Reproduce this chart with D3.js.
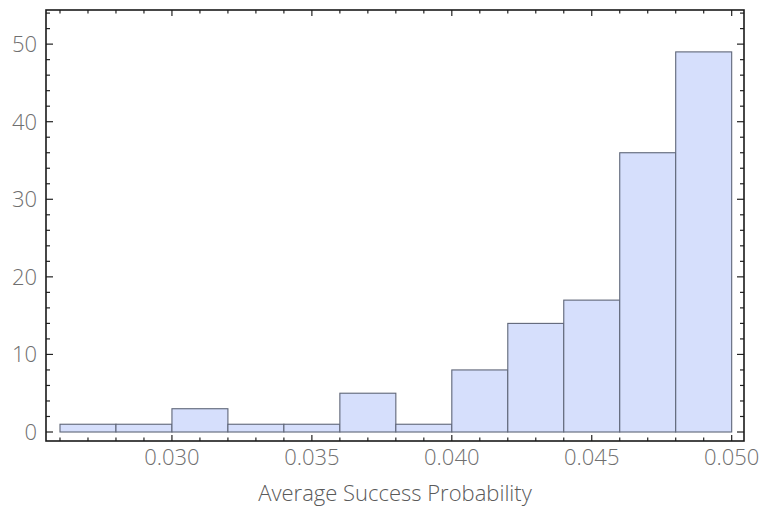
<!DOCTYPE html>
<html>
<head>
<meta charset="utf-8">
<script src="https://cdn.jsdelivr.net/npm/d3@7"></script>
<style>
  html, body { margin: 0; padding: 0; background: #fff; }
  svg { display: block; }
  text { font-family: "Open Sans", "DejaVu Sans", sans-serif; font-weight: 300; }
</style>
</head>
<body>
<svg id="chart" width="761" height="510"></svg>
<script>
// Histogram bins (left edge) and counts
const binStarts = [0.026, 0.028, 0.030, 0.032, 0.034, 0.036, 0.038, 0.040, 0.042, 0.044, 0.046, 0.048];
const binWidth = 0.002;
const counts = [1, 1, 3, 1, 1, 5, 1, 8, 14, 17, 36, 49];

const xTickValues = [0.030, 0.035, 0.040, 0.045, 0.050];
const yTickValues = [0, 10, 20, 30, 40, 50];
const xLabel = "Average Success Probability";

const svg = d3.select("#chart");
const frame = { left: 46, top: 10, right: 744, bottom: 441 };

const x = d3.scaleLinear().domain([0.02550, 0.05044]).range([frame.left, frame.right]);
const y = d3.scaleLinear().domain([-1.16, 54.4]).range([frame.bottom, frame.top]);

// bars
svg.append("g")
  .selectAll("rect")
  .data(binStarts.map((s, i) => ({ s, e: s + binWidth, c: counts[i] })))
  .join("rect")
  .attr("x", d => x(d.s))
  .attr("y", d => y(d.c))
  .attr("width", d => x(d.e) - x(d.s))
  .attr("height", d => y(0) - y(d.c))
  .attr("fill", "#d6dffc")
  .attr("stroke", "#5f6678")
  .attr("stroke-width", 1.1);

// ticks on all four sides, pointing inward
const tickColor = "#222";
const xMinor = d3.range(26, 51).map(v => v / 1000).filter(v => !xTickValues.some(t => Math.abs(t - v) < 1e-9));
const yMinor = d3.range(0, 55, 2).filter(v => v % 10 !== 0);

function xTicks(vals, len) {
  const g = svg.append("g").attr("stroke", tickColor).attr("stroke-width", 1.2);
  vals.forEach(v => {
    g.append("line").attr("x1", x(v)).attr("x2", x(v)).attr("y1", frame.bottom).attr("y2", frame.bottom - len);
    g.append("line").attr("x1", x(v)).attr("x2", x(v)).attr("y1", frame.top).attr("y2", frame.top + len);
  });
}
function yTicks(vals, len) {
  const g = svg.append("g").attr("stroke", tickColor).attr("stroke-width", 1.2);
  vals.forEach(v => {
    g.append("line").attr("y1", y(v)).attr("y2", y(v)).attr("x1", frame.left).attr("x2", frame.left + len);
    g.append("line").attr("y1", y(v)).attr("y2", y(v)).attr("x1", frame.right).attr("x2", frame.right - len);
  });
}
xTicks(xTickValues, 6);
xTicks(xMinor, 3.5);
yTicks(yTickValues, 7);
yTicks(yMinor, 4);

// frame
svg.append("rect")
  .attr("x", frame.left).attr("y", frame.top)
  .attr("width", frame.right - frame.left).attr("height", frame.bottom - frame.top)
  .attr("fill", "none").attr("stroke", "#1a1a1a").attr("stroke-width", 1.6);

// tick labels
svg.append("g").selectAll("text")
  .data(xTickValues).join("text")
  .attr("x", d => x(d)).attr("y", 465)
  .attr("text-anchor", "middle")
  .attr("font-size", 22).attr("fill", "#6f6f6f")
  .text(d => d3.format(".3f")(d));

svg.append("g").selectAll("text")
  .data(yTickValues).join("text")
  .attr("x", 37).attr("y", d => y(d))
  .attr("dy", "0.36em")
  .attr("text-anchor", "end")
  .attr("font-size", 22).attr("fill", "#6f6f6f")
  .text(d => d);

// axis label
svg.append("text")
  .attr("x", 395).attr("y", 501)
  .attr("text-anchor", "middle")
  .attr("font-size", 22).attr("fill", "#5a5a5a")
  .text(xLabel);
</script>
</body>
</html>
